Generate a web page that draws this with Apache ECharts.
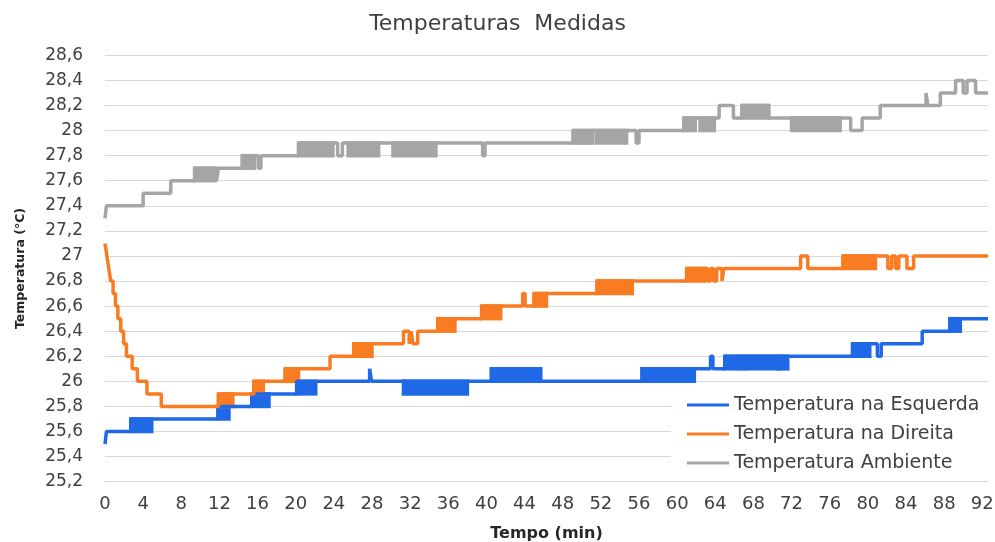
<!DOCTYPE html>
<html><head><meta charset="utf-8">
<script src="https://cdn.jsdelivr.net/npm/echarts@6/dist/echarts.min.js"></script>
<style>html,body{margin:0;padding:0;background:#fff}#c{width:995px;height:542px}</style>
</head><body><div id="c"></div>
<script>
// ---- data (time in min, temperature in °C) ----
const seriesNames = ['Temperatura na Esquerda', 'Temperatura na Direita', 'Temperatura Ambiente'];
const xTicks = [0, 4, 8, 12, 16, 20, 24, 28, 32, 36, 40, 44, 48, 52, 56, 60, 64, 68, 72, 76, 80, 84, 88, 92];

// step change points [t, value]
const leftSteps = [[0,25.5],[0.15,25.6],[2.7,25.7],[11.85,25.8],[15.4,25.9],[20.1,26.0],[27.75,26.1],[27.95,26.0],
  [61.8,26.1],[63.5,26.2],[63.75,26.1],[65.0,26.2],[78.4,26.3],[81.0,26.2],[81.4,26.3],[85.7,26.4],[88.6,26.5],[92.6,26.5]];
// dense oscillation bands [t0, t1, low, high]
const leftBands = [[2.7,4.9,25.6,25.7],[11.85,13.0,25.7,25.8],[15.4,17.2,25.8,25.9],[20.1,22.1,25.9,26.0],
  [31.3,38.0,25.9,26.0],[40.5,45.7,26.0,26.1],[56.3,61.8,26.0,26.1],[65.0,66.6,26.1,26.2],[66.85,67.15,26.1,26.2],
  [67.4,70.3,26.1,26.2],[70.55,70.7,26.1,26.2],[70.8,71.6,26.1,26.2],[78.4,80.2,26.2,26.3],[88.6,89.7,26.4,26.5]];

const rightSteps = [[0,27.1],[0.2,27.0],[0.4,26.9],[0.6,26.8],[0.85,26.7],[1.1,26.6],[1.35,26.5],[1.65,26.4],[1.95,26.3],
  [2.25,26.2],[2.85,26.1],[3.4,26.0],[4.4,25.9],[5.9,25.8],[11.9,25.9],[15.6,26.0],[18.9,26.1],[23.6,26.2],[26.1,26.3],
  [31.3,26.4],[31.9,26.3],[32.1,26.4],[32.3,26.3],[32.8,26.4],[34.9,26.5],[39.5,26.6],[43.8,26.7],[44.05,26.6],[45.0,26.7],
  [51.6,26.8],[61.0,26.9],[63.2,26.8],[63.5,26.9],[63.8,26.8],[64.15,26.9],[64.7,26.8],[64.9,26.9],[72.95,27.0],[73.7,26.9],
  [77.4,27.0],[82.1,26.9],[82.5,27.0],[82.9,26.9],[83.25,27.0],[84.1,26.9],[84.8,27.0],[92.6,27.0]];
const rightBands = [[11.9,13.4,25.8,25.9],[15.6,16.6,25.9,26.0],[18.9,20.3,26.0,26.1],[26.1,28.0,26.2,26.3],
  [34.9,36.7,26.4,26.5],[39.5,41.5,26.5,26.6],[45.0,46.3,26.6,26.7],[51.6,55.3,26.7,26.8],[61.0,62.9,26.8,26.9],
  [77.4,80.8,26.9,27.0]];

const ambSteps = [[0,27.3],[0.15,27.4],[4.0,27.5],[6.9,27.6],[9.4,27.7],[11.7,27.6],[11.9,27.7],[14.4,27.8],[16.1,27.7],
  [16.35,27.8],[20.3,27.9],[24.4,27.8],[24.9,27.9],[39.6,27.8],[39.85,27.9],[49.1,28.0],[55.7,27.9],[56.0,28.0],
  [60.7,28.1],[64.4,28.2],[65.9,28.1],[66.8,28.2],[69.6,28.1],[78.2,28.0],[79.4,28.1],[81.3,28.2],[86.1,28.3],[86.3,28.2],
  [87.6,28.3],[89.2,28.4],[90.0,28.3],[90.4,28.4],[91.3,28.3],[92.6,28.3]];
const ambBands = [[9.4,11.6,27.6,27.7],[14.4,15.7,27.7,27.8],[20.3,23.9,27.8,27.9],[25.5,28.7,27.8,27.9],
  [30.2,34.7,27.8,27.9],[49.1,51.1,27.9,28.0],[51.5,54.7,27.9,28.0],[60.7,61.9,28.0,28.1],[62.4,63.9,28.0,28.1],
  [66.8,69.6,28.1,28.2],[72.0,77.1,28.0,28.1]];

const colors = ['#1F69E6', '#F97C22', '#A5A5A5'];
const FONT = 'DejaVu Sans';
const LW = 3.5;

function bandSeries(bands, color) {
  return {
    type: 'custom', silent: true, data: bands, encode: {x: [0, 1], y: [2, 3]},
    renderItem: function (params, api) {
      const p0 = api.coord([api.value(0), api.value(3)]);
      const p1 = api.coord([api.value(1), api.value(2)]);
      const h = LW / 2;
      return {type: 'rect', shape: {x: p0[0] - h, y: p0[1] - h, width: p1[0] - p0[0] + LW, height: p1[1] - p0[1] + LW},
        style: {fill: color}};
    }
  };
}
function lineSeries(name, steps, color) {
  return {name: name, type: 'line', step: 'end', data: steps, symbol: 'none', showSymbol: false,
    lineStyle: {width: LW, color: color}, itemStyle: {color: color}, emphasis: {disabled: true}};
}

const chart = echarts.init(document.getElementById('c'), null, {renderer: 'canvas'});
chart.setOption({
  animation: false,
  backgroundColor: '#fff',
  title: {text: 'Temperaturas  Medidas', left: 'center', top: 8,
    textStyle: {fontFamily: FONT, fontSize: 22, fontWeight: 'normal', color: '#404040'}},
  grid: {left: 105, right: 7, top: 55.3, bottom: 60.3, containLabel: false, outerBoundsMode: 'none'},
  xAxis: {
    type: 'value', min: 0, max: 92.6, interval: 4,
    name: 'Tempo (min)', nameLocation: 'middle', nameGap: 44,
    nameTextStyle: {fontFamily: FONT, fontSize: 16, fontWeight: 'bold', color: '#262626'},
    axisLine: {show: true, lineStyle: {color: '#d9d9d9', width: 1}},
    axisTick: {show: false}, splitLine: {show: false},
    axisLabel: {fontFamily: FONT, fontSize: 18, color: '#404040', margin: 14, showMaxLabel: false,
      formatter: v => (xTicks.indexOf(Math.round(v * 100) / 100) >= 0 ? String(v) : '')}
  },
  yAxis: {
    type: 'value', min: 25.2, max: 28.6, interval: 0.2,
    name: 'Temperatura (°C)', nameLocation: 'middle', nameGap: 78, nameRotate: 90,
    nameTextStyle: {fontFamily: FONT, fontSize: 12.5, fontWeight: 'bold', color: '#262626'},
    axisLine: {show: false}, axisTick: {show: false},
    splitLine: {show: true, lineStyle: {color: '#d9d9d9', width: 1}},
    axisLabel: {fontFamily: FONT, fontSize: 17, color: '#404040', margin: 22,
      formatter: v => String(Math.round(v * 10) / 10).replace('.', ',')}
  },
  legend: {
    data: seriesNames, orient: 'vertical', left: 671, top: 391,
    backgroundColor: '#fff', padding: [3, 10, 4, 16],
    icon: 'rect', itemWidth: 42, itemHeight: 3, itemGap: 7,
    textStyle: {fontFamily: FONT, fontSize: 19, color: '#404040', lineHeight: 22}
  },
  series: [
    lineSeries(seriesNames[0], leftSteps, colors[0]), bandSeries(leftBands, colors[0]),
    lineSeries(seriesNames[1], rightSteps, colors[1]), bandSeries(rightBands, colors[1]),
    lineSeries(seriesNames[2], ambSteps, colors[2]), bandSeries(ambBands, colors[2])
  ]
});
</script></body></html>
